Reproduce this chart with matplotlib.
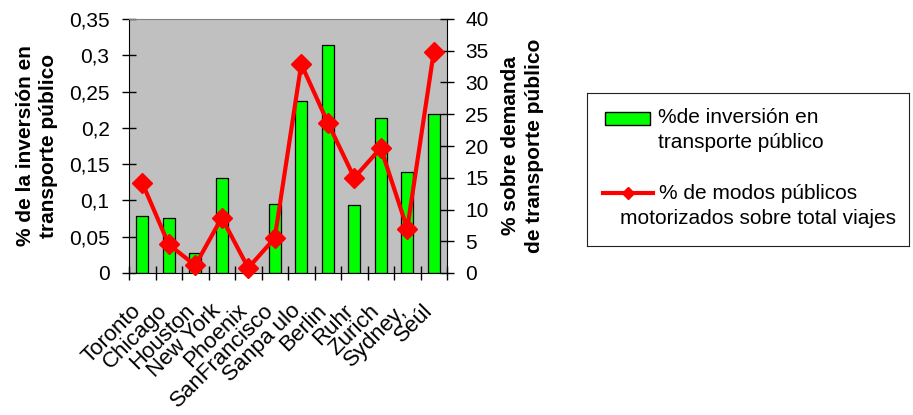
import numpy as np
import matplotlib
matplotlib.use('Agg')
import matplotlib.pyplot as plt
from matplotlib.ticker import FuncFormatter, MultipleLocator
from matplotlib.transforms import ScaledTranslation
from matplotlib.patches import Rectangle

plt.rcParams['font.family'] = ['Liberation Sans', 'DejaVu Sans']

# datos
ciudades = ['Toronto', 'Chicago', 'Houston', 'New York', 'Phoenix', 'SanFrancisco',
            'Sanpa ulo', 'Berlin', 'Ruhr', 'Zurich', 'Sydney,', 'Seúl']
inversion = [0.078, 0.076, 0.028, 0.131, 0.0, 0.095, 0.237, 0.314, 0.094, 0.214, 0.139, 0.219]
demanda = [14.2, 4.5, 1.2, 8.7, 0.8, 5.5, 32.9, 23.7, 15.0, 19.7, 7.0, 34.8]

lbl_inv = '%de inversión en\ntransporte público'
lbl_dem = '% de modos públicos\nmotorizados sobre total viajes'

fig = plt.figure(figsize=(9.13, 4.15), dpi=100)
ax = fig.add_axes([129 / 913, 142 / 415, 318 / 913, 254 / 415])
ax.set_facecolor('#C0C0C0')

x = np.arange(len(ciudades))
ax.bar(x, inversion, width=0.435, color='#00FF00', edgecolor='black', linewidth=0.9)
ax.set_xlim(-0.5, len(ciudades) - 0.5)
ax.set_ylim(0, 0.35)
ax.yaxis.set_major_locator(MultipleLocator(0.05))
ax.yaxis.set_major_formatter(FuncFormatter(lambda v, p: ('%g' % round(v, 2)).replace('.', ',')))

ax.set_xticks(x)
ax.set_xticklabels(ciudades, rotation=45, ha='right', va='center', rotation_mode='anchor')
ax.set_xticks(np.arange(-0.5, len(ciudades), 1), minor=True)
ax.tick_params(axis='x', which='major', length=0, pad=25, labelsize=16)
ax.tick_params(axis='x', which='minor', direction='inout', length=10, width=1)
ax.tick_params(axis='y', direction='inout', length=10, width=1, pad=9, labelsize=15)
off = ScaledTranslation(-0.04, 0, fig.dpi_scale_trans)
for t in ax.get_xticklabels():
    t.set_transform(t.get_transform() + off)

ax.spines['top'].set_color('#808080')
ax.spines['right'].set_visible(False)
ax.set_ylabel('% de la inversión en\ntransporte público', fontsize=15, fontweight='bold',
              labelpad=8, linespacing=1.25)

ax2 = ax.twinx()
ax2.plot(x, demanda, color='#FF0000', lw=3, marker='D', ms=10.5, mec='#FF0000', clip_on=False, zorder=3)
ax2.set_ylim(0, 40)
ax2.yaxis.set_major_locator(MultipleLocator(5))
ax2.tick_params(axis='y', direction='inout', length=10, width=1, pad=8, labelsize=15)
for s in ['top', 'left', 'bottom']:
    ax2.spines[s].set_visible(False)
ax2.set_ylabel('% sobre demanda\nde transporte público', fontsize=15, fontweight='bold',
               labelpad=9, linespacing=1.35)

# leyenda
lg = fig.add_axes([587 / 913, 169 / 415, 322 / 913, 153 / 415])
lg.set_xlim(0, 322)
lg.set_ylim(153, 0)
lg.set_xticks([])
lg.set_yticks([])
for s in lg.spines.values():
    s.set_color('#222222')
lg.add_patch(Rectangle((18, 19), 45, 13, facecolor='#00FF00', edgecolor='black', lw=1))
lg.text(71, 37, lbl_inv, ha='left', va='center', fontsize=15, linespacing=1.4)
lg.plot([16, 41, 66], [100, 100, 100], color='#FF0000', lw=3, marker='D', ms=6, markevery=[1])
lg.text(171, 113, lbl_dem, ha='center', va='center', multialignment='center',
        fontsize=15, linespacing=1.4)

fig.savefig('out.png', dpi=100)
